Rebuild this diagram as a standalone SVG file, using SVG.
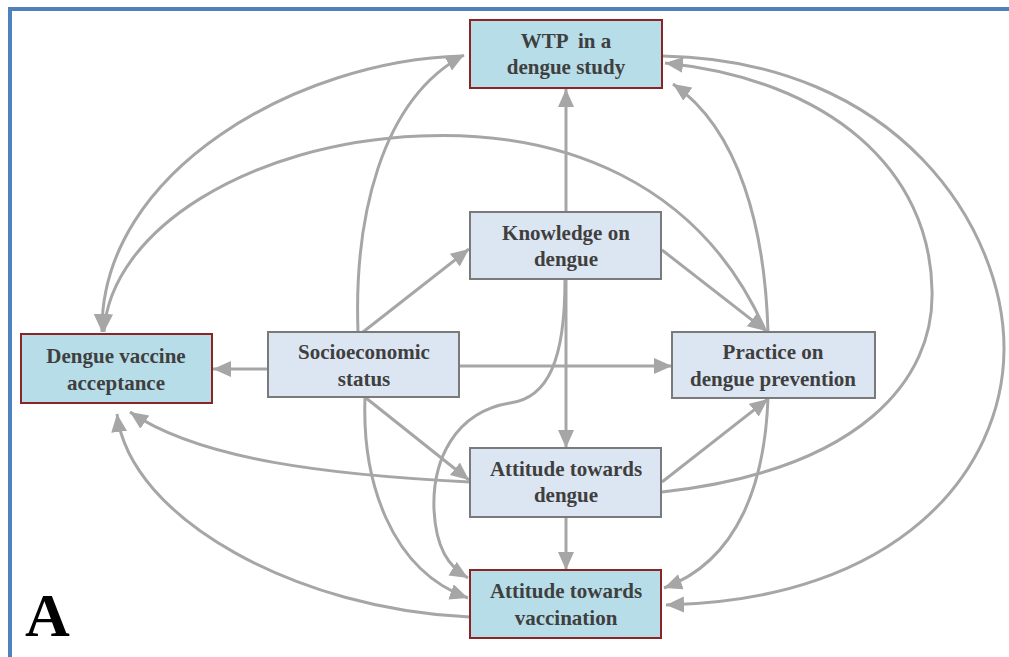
<svg xmlns="http://www.w3.org/2000/svg" width="1009" height="657" viewBox="0 0 1009 657">
<defs>
<marker id="ah" markerUnits="userSpaceOnUse" markerWidth="20" markerHeight="18" refX="18" refY="8" orient="auto" viewBox="0 0 20 18">
<path d="M0,0 L18,8 L0,16 z" fill="#a6a6a6"/>
</marker>
<style>
.edge{fill:none;stroke:#a6a6a6;stroke-width:3;marker-end:url(#ah)}
.plain{fill:none;stroke:#a6a6a6;stroke-width:3}
.out{fill:#b7dde8;stroke:#8b2525;stroke-width:2}
.mid{fill:#dce6f2;stroke:#7a7a7a;stroke-width:2}
.lbl{font-family:"Liberation Serif","Times New Roman",serif;font-weight:bold;font-size:21px;fill:#3f3f3f;text-anchor:middle}
</style>
</defs>
<rect width="1009" height="657" fill="#ffffff"/>
<path d="M10,657 L10,9 L1009,9" fill="none" stroke="#4f81bd" stroke-width="4"/>
<g id="connectors">
<line class="edge" x1="268" y1="369" x2="213" y2="369"/>
<line class="edge" x1="363" y1="332" x2="469" y2="249"/>
<path class="edge" d="M358,332 C354,220 380,100 464,55"/>
<line class="edge" x1="459" y1="366" x2="672" y2="366"/>
<line class="edge" x1="366" y1="398" x2="469" y2="480"/>
<path class="edge" d="M365,398 C362,480 390,570 468,598"/>
<line class="edge" x1="566" y1="212" x2="566" y2="89"/>
<line class="edge" x1="566" y1="279" x2="566" y2="448"/>
<line class="edge" x1="662" y1="250" x2="766" y2="331"/>
<path class="edge" d="M565,280 C565,360 548,398 510,403 C455,412 432,460 434,510 C436,548 448,566 468,578"/>
<line class="edge" x1="566" y1="517" x2="566" y2="570"/>
<line class="edge" x1="662" y1="482" x2="768" y2="399"/>
<path class="edge" d="M662,492 C860,470 935,380 932,290 C930,170 830,80 665,63"/>
<path class="edge" d="M662,56 C900,60 1005,230 1004,350 C1003,470 900,600 666,605"/>
<path class="edge" d="M768,332 C765,230 740,130 673,84"/>
<path class="edge" d="M768,398 C765,480 740,560 664,588"/>
<path class="edge" d="M462,56 C300,60 100,170 102,332"/>
<path class="edge" d="M766,332 C700,180 560,130 420,136 C250,143 110,230 104,332"/>
<path class="edge" d="M470,482 C330,475 200,460 130,412"/>
<path class="edge" d="M470,617 C300,610 130,520 117,414"/>
</g>
<g id="node-wtp">
<rect class="out" x="470" y="20" width="192" height="68"/>
<text class="lbl" x="566" y="48" xml:space="preserve">WTP  in a</text>
<text class="lbl" x="566" y="74">dengue study</text>
</g>
<g id="node-knowledge">
<rect class="mid" x="470" y="212" width="191" height="67"/>
<text class="lbl" x="566" y="240">Knowledge on</text>
<text class="lbl" x="566" y="266">dengue</text>
</g>
<g id="node-acceptance">
<rect class="out" x="21" y="334" width="191" height="69"/>
<text class="lbl" x="116" y="363">Dengue vaccine</text>
<text class="lbl" x="116" y="390">acceptance</text>
</g>
<g id="node-socio">
<rect class="mid" x="268" y="332" width="191" height="65"/>
<text class="lbl" x="364" y="359">Socioeconomic</text>
<text class="lbl" x="364" y="386">status</text>
</g>
<g id="node-practice">
<rect class="mid" x="672" y="332" width="203" height="66"/>
<text class="lbl" x="773" y="359">Practice on</text>
<text class="lbl" x="773" y="386">dengue prevention</text>
</g>
<g id="node-att-dengue">
<rect class="mid" x="470" y="448" width="191" height="69"/>
<text class="lbl" x="566" y="476">Attitude towards</text>
<text class="lbl" x="566" y="502">dengue</text>
</g>
<g id="node-att-vacc">
<rect class="out" x="470" y="570" width="191" height="68"/>
<text class="lbl" x="566" y="598">Attitude towards</text>
<text class="lbl" x="566" y="625">vaccination</text>
</g>
<text x="25" y="636" font-family="Liberation Serif, Times New Roman, serif" font-weight="bold" font-size="62" fill="#000000">A</text>
</svg>
